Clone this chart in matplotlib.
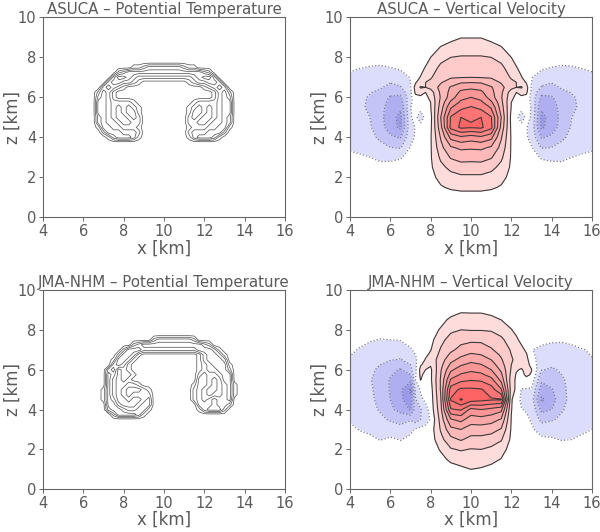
import numpy as np
import matplotlib
matplotlib.use("Agg")
import matplotlib.pyplot as plt

# ---------------------------------------------------------------
# Vertical velocity in contour-level units on a rectilinear grid.
# Columns x (km), rows z (km, top to bottom). ASUCA is given for the
# left half (x = 4..10) only and is mirror symmetric about x = 10.
# ---------------------------------------------------------------
x_w = [4.0, 4.5, 5.0, 5.5, 6.0, 6.5, 7.0, 7.25, 7.5, 7.75, 8.0, 8.5, 9.0, 9.5, 10.0,
       10.5, 11.0, 11.5, 12.0, 12.25, 12.5, 12.75, 13.0, 13.5, 14.0, 14.5, 15.0, 15.5, 16.0]
z_w = [10.0, 9.5, 9.0, 8.5, 8.0, 7.5, 7.0, 6.75, 6.5, 6.25, 6.0, 5.75, 5.5,
       5.0, 4.5, 4.0, 3.5, 3.0, 2.5, 2.0, 1.5, 1.0, 0.5, 0.0]

asuca_w_half = [
    [0, 0, 0, 0, 0, 0, 0, 0, 0, 0, 0, 0, 0, 0, 0],
    [0, 0, 0, 0, 0, 0, 0, 0, 0, 0, 0, 0, 0, 0, 0],
    [0, 0, 0, 0, 0, 0, 0, 0, 0, 0, 0, 0, 0.1, 0.45, 0.45],
    [0, 0, 0, 0, 0, 0, 0, 0, 0, 0, 0, 0.55, 1.0, 1.2, 1.2],
    [0, 0, -0.1, -0.1, -0.1, 0, 0, 0, 0, 0.1, 0.5, 1.2, 1.5, 1.55, 1.55],
    [-0.3, -0.45, -0.55, -0.6, -0.5, -0.35, 0, 0, 0.2, 0.55, 1.0, 1.7, 1.95, 2.0, 2.0],
    [-0.75, -0.9, -1.0, -1.1, -1.1, -0.9, -0.45, 0.1, 0.55, 1.0, 1.4, 2.1, 2.4, 2.45, 2.5],
    [-0.9, -1.05, -1.15, -1.25, -1.45, -1.2, -0.5, 0.4, 1.0, 1.5, 1.7, 2.4, 3.0, 3.4, 3.45],
    [-1.0, -1.15, -1.3, -1.4, -1.8, -1.6, -0.6, 0.9, 1.6, 1.5, 1.8, 2.8, 3.6, 4.2, 4.3],
    [-1.05, -1.25, -1.45, -1.7, -2.2, -2.2, -0.7, 0.7, 0.9, 0.5, 1.0, 2.7, 3.8, 4.7, 4.9],
    [-1.05, -1.3, -1.6, -2.0, -2.6, -2.7, -0.8, 0.2, 0.3, 0.2, 0.8, 2.6, 4.0, 5.2, 5.5],
    [-1.05, -1.3, -1.65, -2.1, -2.75, -3.0, -0.7, 0.0, -0.1, 0.0, 0.5, 2.8, 4.7, 5.7, 6.0],
    [-1.05, -1.3, -1.7, -2.2, -2.9, -3.3, -0.55, -0.1, -0.1, 0.0, 0.45, 3.0, 5.4, 6.2, 6.6],
    [-1.0, -1.25, -1.5, -2.2, -3.1, -3.8, -0.6, -0.2, -1.1, -0.2, 0.2, 3.5, 6.6, 7.5, 7.4],
    [-0.9, -1.1, -1.4, -2.1, -3.0, -3.7, -0.8, -0.45, 0.0, 0.0, 0.3, 3.2, 6.8, 7.7, 7.6],
    [-0.75, -0.95, -1.2, -1.7, -2.3, -2.6, -0.8, -0.4, -0.1, 0.0, 0.4, 2.6, 4.8, 5.3, 5.0],
    [-0.6, -0.7, -0.9, -1.2, -1.5, -1.6, -0.45, -0.1, 0, 0, 0.4, 2.2, 3.4, 3.7, 3.65],
    [-0.35, -0.4, -0.5, -0.65, -0.7, -0.6, -0.1, 0, 0, 0, 0.4, 1.7, 2.6, 2.9, 2.85],
    [0, 0, -0.15, -0.3, -0.2, -0.1, 0, 0, 0, 0, 0.35, 1.2, 1.8, 2.05, 2.05],
    [0, 0, 0, 0, 0, 0, 0, 0, 0, 0, 0.2, 0.8, 1.1, 1.3, 1.3],
    [0, 0, 0, 0, 0, 0, 0, 0, 0, 0, 0, 0.4, 0.65, 0.8, 0.8],
    [0, 0, 0, 0, 0, 0, 0, 0, 0, 0, 0, 0, 0, 0, 0],
    [0, 0, 0, 0, 0, 0, 0, 0, 0, 0, 0, 0, 0, 0, 0],
    [0, 0, 0, 0, 0, 0, 0, 0, 0, 0, 0, 0, 0, 0, 0],
]

jma_w = [
    [0] * 29,
    [0] * 29,
    [0, 0, 0, 0, 0, 0, 0, 0, 0, 0, 0, 0, 0.05, 0.3, 0.2, 0.2, 0, 0, 0, 0, 0, 0, 0, 0, 0, 0, 0, 0, 0],
    [0, 0, 0, 0, 0, 0, 0, 0, 0, 0, 0, 0.2, 0.7, 1.0, 1.15, 1.15, 0.9, 0.5, 0, 0, 0, 0, 0, 0, 0, 0, 0, 0, 0],
    [0, 0, 0, 0, 0, 0, 0, 0, 0, 0, 0.1, 0.6, 1.3, 1.5, 1.45, 1.45, 1.4, 1.1, 0.55, 0.2, 0, 0, 0,
     0, 0, 0, 0, 0, 0],
    [0, -0.2, -0.4, -0.55, -0.5, -0.45, -0.2, -0.1, 0, 0.05, 0.2, 1.2, 1.9, 2.2, 2.3, 2.3, 2.1, 1.7,
     1.0, 0.7, 0.2, 0, 0, -0.2, -0.35, -0.4, -0.3, -0.15, 0],
    [-0.3, -0.6, -0.9, -1.0, -1.0, -1.0, -0.6, -0.3, -0.1, 0.2, 0.45, 1.6, 2.3, 2.8, 3.1, 3.0, 2.6, 2.1,
     1.4, 1.1, 0.8, 0.3, -0.45, -0.75, -0.85, -0.8, -0.7, -0.55, -0.4],
    [-0.45, -0.75, -1.05, -1.2, -1.2, -1.3, -0.9, -0.5, -0.2, 0.3, 0.7, 1.8, 2.7, 3.3, 3.65, 3.5, 3.05, 2.35,
     1.5, 1.2, 1.0, 0.6, -0.3, -0.9, -1.0, -0.95, -0.85, -0.7, -0.45],
    [-0.6, -0.9, -1.2, -1.35, -1.45, -1.55, -1.2, -0.6, -0.1, 0.6, 0.9, 2.0, 3.2, 3.8, 4.2, 4.0, 3.5, 2.6,
     1.6, 1.3, 1.0, 0.8, -0.1, -1.0, -1.15, -1.1, -0.95, -0.8, -0.55],
    [-0.7, -1.0, -1.3, -1.5, -1.8, -2.1, -1.5, -0.7, 0.4, 0.8, 0.6, 2.2, 3.7, 4.4, 4.75, 4.55, 4.0, 2.9,
     1.5, 1.0, 0.8, 0.9, 0.2, -1.2, -1.4, -1.25, -1.05, -0.9, -0.65],
    [-0.8, -1.1, -1.4, -1.6, -2.2, -2.6, -1.8, -0.7, 0.8, 0.5, 0.3, 2.4, 4.3, 5.0, 5.3, 5.1, 4.5, 3.3,
     1.4, 0.6, 0.4, 0.8, 0.55, -1.45, -1.6, -1.4, -1.15, -0.95, -0.75],
    [-0.85, -1.15, -1.4, -1.7, -2.4, -2.8, -2.5, -0.6, 0.7, 0.2, 0.3, 2.5, 4.9, 5.6, 5.85, 5.7, 5.1, 3.7,
     1.2, 0.4, 0.2, 0.7, 0.4, -1.9, -1.8, -1.5, -1.2, -0.97, -0.8],
    [-0.9, -1.2, -1.45, -1.8, -2.6, -3.0, -3.2, -0.5, 0.55, -0.1, 0.3, 2.6, 5.6, 6.2, 6.4, 6.3, 5.8, 4.2,
     1.0, 0.3, 0.0, 0.2, 0.1, -2.3, -2.0, -1.6, -1.25, -1.0, -0.85],
    [-0.9, -1.2, -1.4, -1.75, -2.6, -3.3, -4.6, -1.2, -0.4, 0.0, 0.1, 2.6, 7.0, 7.7, 7.7, 7.6, 7.0, 5.6,
     1.0, 0.3, -0.55, -0.6, -0.6, -3.0, -2.6, -1.7, -1.25, -1.0, -0.85],
    [-0.85, -1.1, -1.35, -1.7, -2.5, -3.2, -4.3, -1.6, -0.7, -0.3, 0.0, 2.4, 7.6, 8.6, 8.0, 7.8, 7.6, 7.6,
     0.6, 0.0, -0.7, -0.8, -1.0, -3.7, -3.0, -1.75, -1.25, -1.0, -0.85],
    [-0.75, -1.0, -1.2, -1.6, -2.3, -2.8, -3.6, -2.0, -1.6, -0.9, -0.1, 2.2, 6.4, 6.6, 5.2, 5.5, 5.2, 4.8,
     0.55, 0.0, -0.45, -0.6, -0.7, -2.8, -2.5, -1.6, -1.15, -0.95, -0.8],
    [-0.6, -0.8, -1.0, -1.3, -1.6, -1.9, -1.6, -2.0, -1.5, -1.0, -0.4, 1.9, 4.4, 4.8, 4.0, 4.1, 3.9, 3.4,
     0.45, 0.0, 0.0, -0.3, -0.6, -1.8, -1.6, -1.3, -1.0, -0.85, -0.7],
    [-0.3, -0.55, -0.7, -0.9, -1.0, -1.1, -0.7, -0.4, -0.2, -0.1, 0, 1.6, 3.2, 3.5, 3.0, 3.0, 2.9, 2.4,
     0.4, 0, 0, 0, -0.35, -0.9, -0.9, -0.9, -0.75, -0.65, -0.5],
    [0, -0.2, -0.3, -0.55, -0.35, -0.55, -0.3, -0.1, 0, 0, 0, 1.2, 2.2, 2.6, 2.2, 2.2, 2.0, 1.6,
     0.3, 0, 0, 0, 0, -0.3, -0.4, -0.55, -0.5, -0.35, -0.25],
    [0, 0, 0, 0, 0, -0.1, 0, 0, 0, 0, 0, 0.6, 1.4, 1.6, 1.45, 1.5, 1.3, 0.9,
     0.1, 0, 0, 0, 0, 0, 0, -0.1, -0.1, 0, 0],
    [0, 0, 0, 0, 0, 0, 0, 0, 0, 0, 0, 0.2, 0.7, 0.9, 1.0, 1.0, 0.8, 0.45, 0, 0, 0, 0, 0, 0, 0, 0, 0, 0, 0],
    [0, 0, 0, 0, 0, 0, 0, 0, 0, 0, 0, 0, 0.1, 0.3, 0.5, 0.4, 0.2, 0, 0, 0, 0, 0, 0, 0, 0, 0, 0, 0, 0],
    [0] * 29,
    [0] * 29,
]

# ---------------------------------------------------------------
# Potential temperature perturbation, 0.25 km grid (x = 6.25..13.75,
# z = 8.0 -> 3.25), one digit per point = contour-level count.
# ASUCA left half only (x = 6.25..10.0), mirrored about x = 10.
# ---------------------------------------------------------------
asuca_theta_half = [
    "0000000000000000",
    "0000000000000000",
    "0000000001123333",
    "0000002344444444",
    "0000035543222222",
    "0000344332100000",
    "0003432100000000",
    "0024310000000000",
    "0034310000000000",
    "0044322221000000",
    "0044321232100000",
    "0044321233100000",
    "0034321123200000",
    "0034332112200000",
    "0014433222100000",
    "0002444333200000",
    "0000134443100000",
    "0000000000000000",
    "0000000000000000",
    "0000000000000000",
]

jma_theta = [
    "0000000000000000000000000000000",
    "0000000000000000000000000000000",
    "0000000000000233333332000000000",
    "0000000002344444444444432000000",
    "0000000244433333333333444310000",
    "0000002443100000000000134431000",
    "0000014431000000000000134443000",
    "0000034310000000000000123444100",
    "0000341210000000000000123344200",
    "0000431221000000000000232234400",
    "0000421210000000000000332124400",
    "0000421122100000000001332123410",
    "0001421233321000000002321123410",
    "0001421232222000000002321223410",
    "0001431121123000000002323433400",
    "0000442111233000000000333433200",
    "0000344322331000000000134442000",
    "0000024444310000000000000000000",
    "0000000000000000000000000000000",
    "0000000000000000000000000000000",
]
x_th = np.linspace(6.25, 13.75, 31)
z_th = np.linspace(8.0, 3.25, 20)

titles = [
    "ASUCA \u2013 Potential Temperature",
    "ASUCA \u2013 Vertical Velocity",
    "JMA-NHM \u2013 Potential Temperature",
    "JMA-NHM \u2013 Vertical Velocity",
]

theta_levels = [0.5, 1.5, 2.5, 3.5, 4.5]
w_pos_levels = [0.5, 1.5, 2.5, 3.5, 4.5, 5.5, 6.5, 7.5, 8.5]
w_neg_levels = [-4.5, -3.5, -2.5, -1.5, -0.5]
w_fill_levels = [-5.5] + w_neg_levels + w_pos_levels + [9.5]
w_fill_colors = ["#8686e4", "#9a9aea", "#aeaef0", "#c4c4f6", "#dcdcfc", "#ffffff",
                 "#ffdcdc", "#ffcaca", "#ffb9b9", "#ffa8a8", "#ff9696",
                 "#ff8585", "#ff7474", "#ff6464", "#ff5454"]


def mirror(half):
    half = np.asarray(half, dtype=float)
    return np.hstack([half, half[:, -2::-1]])


def digits(rows):
    return np.array([[int(c) for c in r] for r in rows], dtype=float)


w_fields = [mirror(asuca_w_half), np.asarray(jma_w, dtype=float)]
theta_fields = [mirror(digits(asuca_theta_half)), digits(jma_theta)]

plt.rcParams['font.family'] = 'DejaVu Sans'
text_col = "#5a5a5a"

fig = plt.figure(figsize=(6.0, 5.32), dpi=100)
positions = [
    [0.0717, 0.5915, 0.4033, 0.3759],
    [0.5833, 0.5915, 0.4033, 0.3759],
    [0.0717, 0.0803, 0.4033, 0.3746],
    [0.5833, 0.0803, 0.4033, 0.3746],
]

for k, pos in enumerate(positions):
    ax = fig.add_axes(pos)
    row = k // 2
    if k % 2 == 0:
        ax.contour(x_th, z_th, theta_fields[row], levels=theta_levels,
                   colors="#5a5a5a", linewidths=0.55)
    else:
        w = w_fields[row]
        ax.contourf(x_w, z_w, w, levels=w_fill_levels, colors=w_fill_colors)
        ax.contour(x_w, z_w, w, levels=w_pos_levels, colors="#3a3a3a",
                   linewidths=0.8)
        ax.contour(x_w, z_w, w, levels=w_neg_levels, colors="#7a7a90",
                   linewidths=0.9, linestyles="dotted")
    ax.set_xlim(4, 16)
    ax.set_ylim(0, 10)
    ax.set_xticks(range(4, 17, 2))
    ax.set_yticks(range(0, 11, 2))
    ax.tick_params(direction="out", length=3, width=0.7, colors="#666666",
                   labelcolor=text_col, labelsize=10.5, pad=2)
    for s in ax.spines.values():
        s.set_color("#666666")
        s.set_linewidth(0.8)
    ax.set_title(titles[k], fontsize=10.8, color=text_col, pad=2)
    ax.set_xlabel("x [km]", fontsize=12, color=text_col, labelpad=0)
    ax.set_ylabel("z [km]", fontsize=12, color=text_col)
    ax.yaxis.set_label_coords(-0.088, 0.5)

fig.savefig("out.png", dpi=100)
